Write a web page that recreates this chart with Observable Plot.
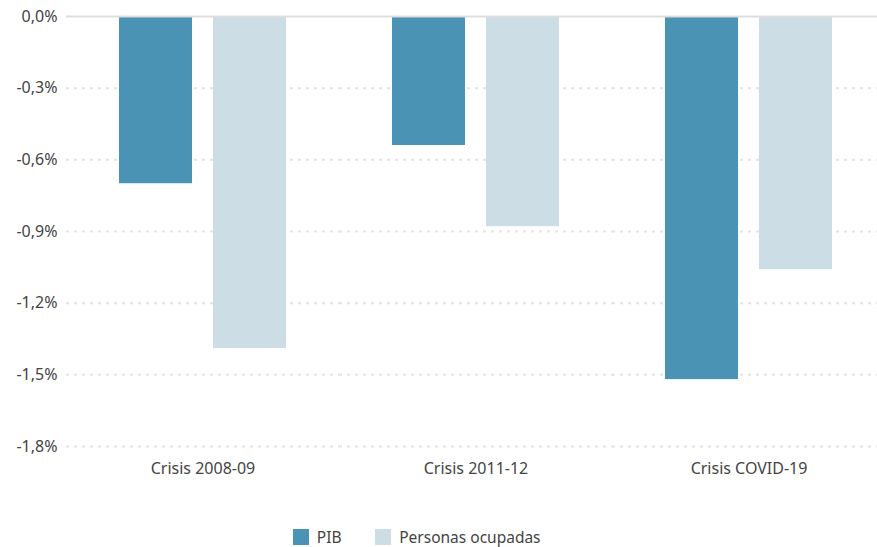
<!DOCTYPE html>
<html>
<head>
<meta charset="utf-8">
<script src="https://cdn.jsdelivr.net/npm/d3@7"></script>
<script src="https://cdn.jsdelivr.net/npm/@observablehq/plot@0.6"></script>
<style>
  body { margin: 0; background: #fff; font-family: "Noto Sans", sans-serif; }
  #legend { margin-left: 293px; margin-top: 20px; }
  #legend .leg-swatch { margin-right: 34px !important; }
</style>
</head>
<body>
<div id="chart"></div>
<div id="legend"></div>
<script>
const groups = ["Crisis 2008-09", "Crisis 2011-12", "Crisis COVID-19"];
const series = ["PIB", "Personas ocupadas"];
const pib = [-0.70, -0.54, -1.52];
const ocupadas = [-1.39, -0.88, -1.06];
const yTicks = [0, -0.3, -0.6, -0.9, -1.2, -1.5, -1.8];
const colors = ["#4a93b5", "#cddde6"];

const data = groups.flatMap((g, i) => [
  {group: g, series: series[0], value: pib[i]},
  {group: g, series: series[1], value: ocupadas[i]}
]);

const fmt = d => (Math.abs(d) < 1e-9 ? 0 : d).toFixed(1).replace(".", ",") + "%";

const chart = Plot.plot({
  width: 877,
  height: 500,
  marginTop: 16,
  marginBottom: 54,
  marginLeft: 65,
  marginRight: -9,
  style: {fontFamily: "Noto Sans", fontSize: "16px", color: "#444", background: "#fff"},
  fx: {domain: groups, padding: 0, label: null, axis: null},
  x: {domain: series, paddingInner: 0.222, paddingOuter: 0.555, axis: null},
  y: {domain: [-1.8, 0], label: null, axis: null},
  color: {domain: series, range: colors},
  marks: [
    Plot.gridY(yTicks.filter(d => d !== 0), {stroke: "#e4e4e4", strokeOpacity: 1, strokeDasharray: "3,5", strokeWidth: 2}),
    Plot.barY(data, {fx: "group", x: "series", y: "value", fill: "series"}),
    Plot.ruleY([0], {stroke: "#dddddd", strokeWidth: 2}),
    Plot.axisY(yTicks, {tickSize: 0, tickPadding: 9, tickFormat: fmt, label: null, fontSize: 16}),
    Plot.axisFx({anchor: "bottom", tickSize: 0, tickPadding: 16, label: null, fontSize: 16})
  ]
});
document.getElementById("chart").appendChild(chart);

const legend = Plot.legend({
  color: {domain: series, range: colors},
  swatchSize: 16,
  className: "leg",
  style: {fontFamily: "Noto Sans", fontSize: "15.5px", color: "#444"}
});
document.getElementById("legend").appendChild(legend);
</script>
</body>
</html>
